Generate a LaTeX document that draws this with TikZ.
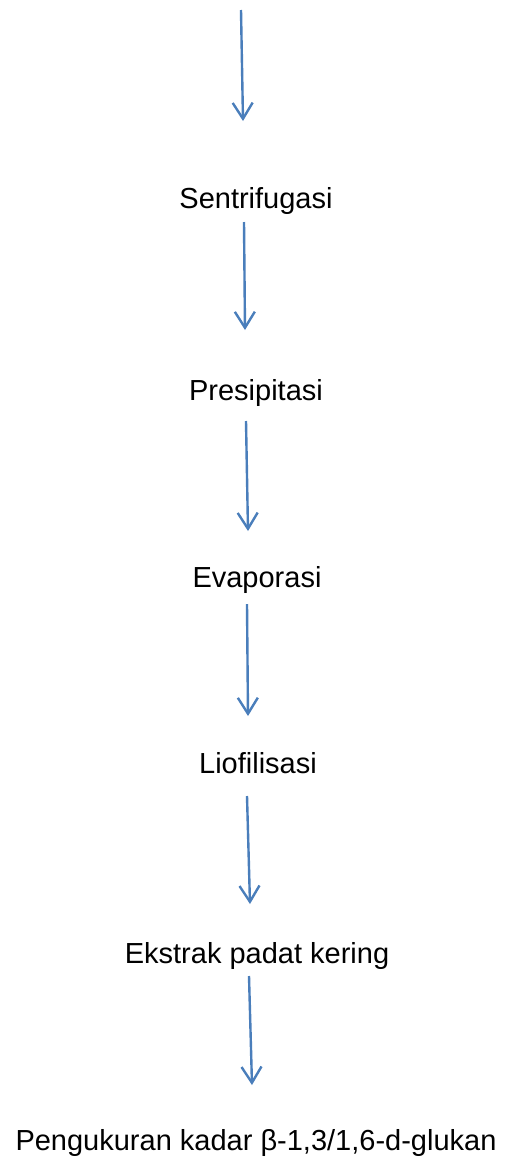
\documentclass[tikz,border=0pt]{standalone}
\usepackage{fontspec}
\setmainfont{Liberation Sans}
\usetikzlibrary{arrows.meta}
\definecolor{arrowblue}{RGB}{74,126,187}
\tikzset{
  lbl/.style={anchor=base, inner sep=0pt, font=\fontsize{14.5pt}{17pt}\selectfont},
  flow/.style={draw=arrowblue, line width=1.2pt, -{Straight Barb[length=8pt,width=10pt,line width=1.2pt]}}
}
\begin{document}
\begin{tikzpicture}[x=0.5pt,y=-0.5pt]
\useasboundingbox (0,0) rectangle (505,1162);
\node[lbl] (t1) at (256,208) {Sentrifugasi};
\node[lbl] (t2) at (256,400) {Presipitasi};
\node[lbl] (t3) at (257,587) {Evaporasi};
\node[lbl] (t4) at (258,773) {Liofilisasi};
\node[lbl] (t5) at (257,963) {Ekstrak padat kering};
\node[lbl] (t6) at (256,1150) {Pengukuran kadar β-1,3/1,6-d-glukan};
\coordinate (a1s) at (241,10);   \coordinate (a1e) at (243,121);
\coordinate (a2s) at (244,222);  \coordinate (a2e) at (245,330);
\coordinate (a3s) at (246,421);  \coordinate (a3e) at (248,531);
\coordinate (a4s) at (247,604);  \coordinate (a4e) at (248,716);
\coordinate (a5s) at (247,796);  \coordinate (a5e) at (250,904);
\coordinate (a6s) at (249,976);  \coordinate (a6e) at (252,1085);
\draw[flow] (a1s) -- (a1e);
\draw[flow] (a2s) -- (a2e);
\draw[flow] (a3s) -- (a3e);
\draw[flow] (a4s) -- (a4e);
\draw[flow] (a5s) -- (a5e);
\draw[flow] (a6s) -- (a6e);
\end{tikzpicture}
\end{document}
